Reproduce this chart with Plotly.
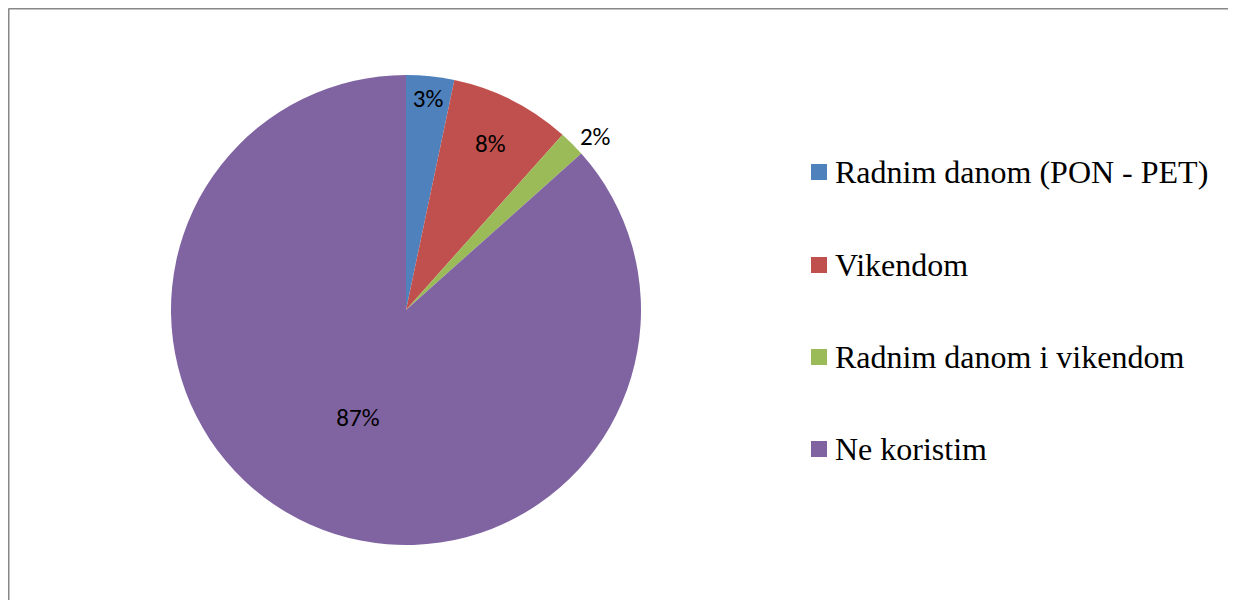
import plotly.graph_objects as go

# page body has an 8px margin, so the figure is drawn at (8, 8)
OFF = 8
W, H = 1236 - 2 * OFF, 608 - 2 * OFF

labels = ["Radnim danom (PON - PET)", "Vikendom", "Radnim danom i vikendom", "Ne koristim"]
values = [3.3, 8.3, 1.8, 86.6]
colors = ["#4F81BD", "#C0504D", "#9BBB59", "#8064A2"]
text_pos = ["inside", "inside", "outside", "inside"]


def px(x):
    return (x - OFF) / W


def py(y):
    return 1 - (y - OFF) / H


fig = go.Figure()

fig.add_trace(go.Pie(
    labels=labels,
    values=values,
    sort=False,
    direction="clockwise",
    rotation=0,
    marker=dict(colors=colors, line=dict(color="white", width=0)),
    texttemplate="%{percent:.0%}",
    textposition=text_pos,
    insidetextorientation="horizontal",
    textfont=dict(family="Carlito, Calibri, Lato, sans-serif", size=25, color="black"),
    domain=dict(x=[px(171), px(641)], y=[py(545), py(75)]),
    showlegend=False,
    hoverinfo="label+percent",
))

# hand-made legend (Excel style: wide gaps between entries)
LEG_X = 811
LEG_Y = [172, 265, 357, 449]
SQ = 16
for lab, col, yc in zip(labels, colors, LEG_Y):
    fig.add_shape(
        type="rect", xref="paper", yref="paper",
        x0=px(LEG_X), x1=px(LEG_X + SQ),
        y0=py(yc + SQ / 2), y1=py(yc - SQ / 2),
        fillcolor=col, line_width=0,
    )
    fig.add_annotation(
        xref="paper", yref="paper",
        x=px(LEG_X + SQ + 6), y=py(yc),
        xanchor="left", yanchor="middle",
        text=lab, showarrow=False,
        font=dict(family="Liberation Serif, Times New Roman, serif", size=32, color="black"),
    )

# chart frame (only top and left edges show)
fig.add_shape(type="line", xref="paper", yref="paper",
              x0=px(8.5), x1=1.0, y0=py(8.5), y1=py(8.5),
              line=dict(color="#878787", width=2))
fig.add_shape(type="line", xref="paper", yref="paper",
              x0=px(8.5), x1=px(8.5), y0=0, y1=py(8.5),
              line=dict(color="#878787", width=2))

fig.update_layout(
    width=W, height=H,
    margin=dict(l=0, r=0, t=0, b=0),
    paper_bgcolor="white",
    plot_bgcolor="white",
)

fig.write_html("out.html")
